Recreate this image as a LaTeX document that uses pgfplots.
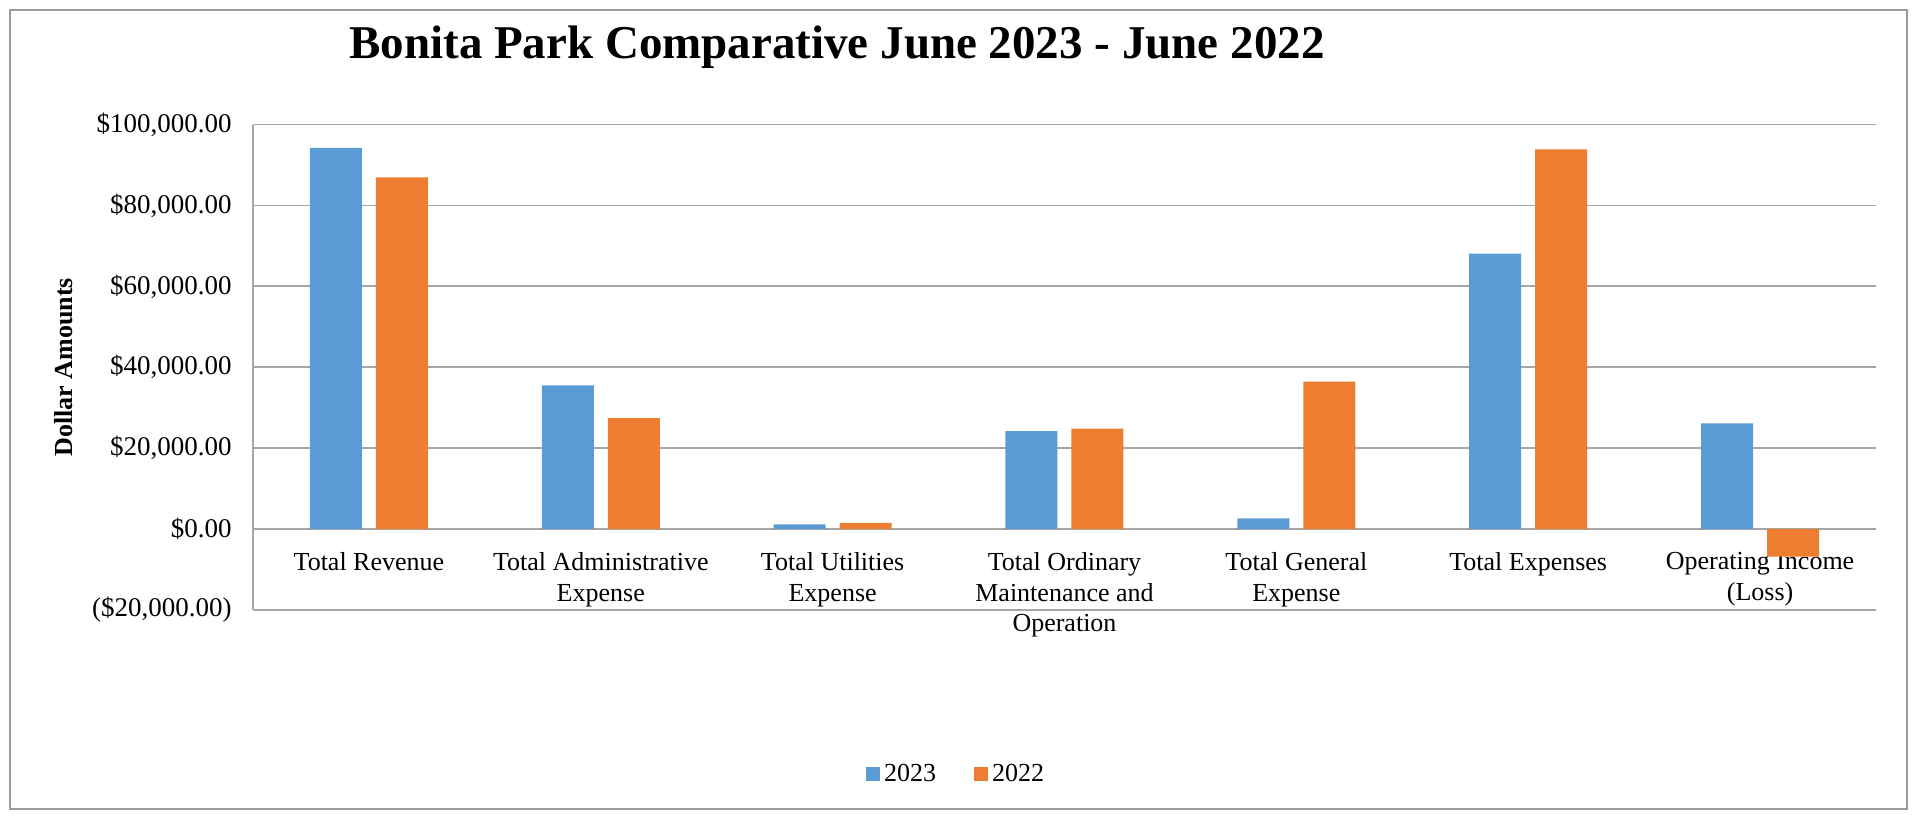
\documentclass[border=0pt]{standalone}
\usepackage{pgfplots}
\usepackage{pgfplotstable}
\pgfplotsset{compat=1.18}
\usepackage{fontspec}
\setmainfont{Liberation Serif}
\definecolor{c2023}{HTML}{5B9BD5}
\definecolor{c2022}{HTML}{ED7D31}
\definecolor{gridgray}{HTML}{A6A6A6}
\definecolor{framegray}{HTML}{9A9A9A}

\pgfplotstableread{
cat y2023 y2022
0 94220 86940
1 35560 27410
2 1150 1560
3 24200 24860
4 2630 36460
5 68090 93890
6 26150 -6780
}\datatable

\begin{document}
\begin{tikzpicture}
\useasboundingbox (-126.5pt,-103.5pt) rectangle (832pt,305pt);
\draw[framegray, line width=0.8pt] (-121.5pt,-99.5pt) rectangle (827pt,300pt);
\begin{axis}[
  at={(0,0)}, anchor=south west,
  scale only axis, width=811.5pt, height=242.7pt,
  xmin=-0.5, xmax=6.5, ymin=-20000, ymax=100000,
  ybar=7pt, bar width=26pt,
  axis x line*=bottom, axis y line*=left,
  x axis line style={draw=none},
  y axis line style={draw=gridgray, line width=0.9pt, -},
  major tick length=0pt,
  ymajorgrids, grid style={gridgray, line width=0.9pt},
  scaled y ticks=false,
  ytick={-20000,0,20000,40000,60000,80000,100000},
  yticklabels={{(\$20,000.00)},{\$0.00},{\$20,000.00},{\$40,000.00},{\$60,000.00},{\$80,000.00},{\$100,000.00}},
  yticklabel style={font=\fontsize{13.5}{15}\selectfont, anchor=east, inner sep=0pt, xshift=-10.5pt},
  xtick={0,...,6},
  xticklabels={Total Revenue, Total Administrative\\Expense, Total Utilities\\Expense, Total Ordinary\\Maintenance and\\Operation, Total General\\Expense, Total Expenses, Operating Income\\(Loss)},
  xticklabel style={font=\fontsize{13}{15.3}\selectfont, align=center, anchor=north, inner sep=0pt, yshift=29pt},
  ylabel={Dollar Amounts},
  ylabel style={font=\fontsize{13}{15}\selectfont\bfseries, at={(axis description cs:-0.1164,0.5)}, anchor=center},
  title={Bonita Park Comparative June 2023 - June 2022},
  title style={font=\fontsize{23.5}{27}\selectfont\bfseries, at={(axis description cs:0.3598,1.1352)}, anchor=center},
  legend style={at={(axis description cs:0.4338,-0.338)}, anchor=center, draw=none, legend columns=-1, font=\fontsize{13}{15}\selectfont, /tikz/every even column/.append style={column sep=17pt}},
  legend image code/.code={\fill[#1] (0pt,-3.5pt) rectangle (7pt,3.5pt);},
]
\addplot[fill=c2023, draw=none] table[x=cat, y=y2023] {\datatable};
\addplot[fill=c2022, draw=none] table[x=cat, y=y2022] {\datatable};
\legend{2023, 2022}
\end{axis}
\end{tikzpicture}
\end{document}
